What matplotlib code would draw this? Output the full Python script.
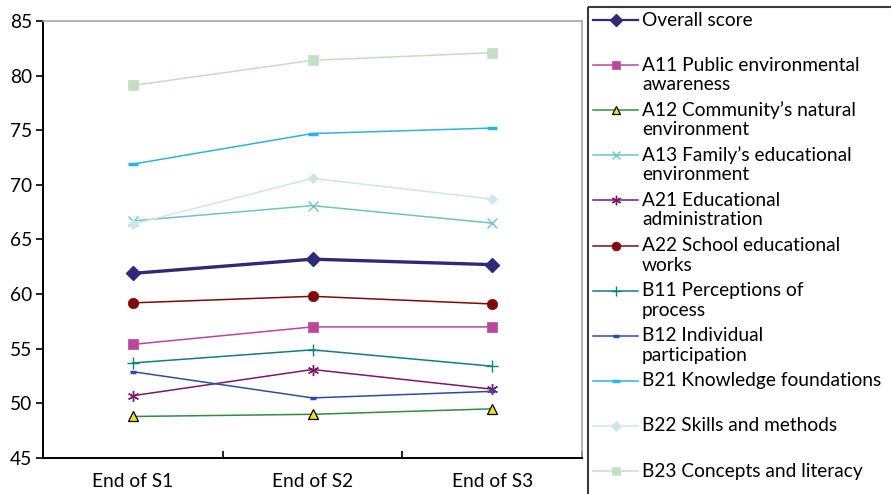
import matplotlib
matplotlib.use("Agg")
import matplotlib.pyplot as plt
from matplotlib.patches import Rectangle

plt.rcParams['font.family'] = ['Lato', 'DejaVu Sans']

# Data
periods = ["End of S1", "End of S2", "End of S3"]
labels = [
    "Overall score",
    "A11 Public environmental\nawareness",
    "A12 Community\u2019s natural\nenvironment",
    "A13 Family\u2019s educational\nenvironment",
    "A21 Educational\nadministration",
    "A22 School educational\nworks",
    "B11 Perceptions of\nprocess",
    "B12 Individual\nparticipation",
    "B21 Knowledge foundations",
    "B22 Skills and methods",
    "B23 Concepts and literacy",
]
overall = [61.9, 63.2, 62.7]
a11 = [55.4, 57.0, 57.0]
a12 = [48.8, 49.0, 49.5]
a13 = [66.7, 68.1, 66.5]
a21 = [50.7, 53.1, 51.3]
a22 = [59.2, 59.8, 59.1]
b11 = [53.7, 54.9, 53.4]
b12 = [52.9, 50.5, 51.1]
b21 = [71.9, 74.7, 75.2]
b22 = [66.4, 70.6, 68.7]
b23 = [79.1, 81.4, 82.1]
series = [overall, a11, a12, a13, a21, a22, b11, b12, b21, b22, b23]
yticks = [45, 50, 55, 60, 65, 70, 75, 80, 85]

# Styles: color, linewidth, marker, markersize, face, edge, edge width
styles = [
    dict(color="#2E2A78", lw=2.4, marker="D", ms=7.5, mfc="#2E2A78", mec="#2E2A78", mew=1.0),
    dict(color="#BA479B", lw=1.1, marker="s", ms=7.5, mfc="#BA479B", mec="#BA479B", mew=0.5),
    dict(color="#2F8F3F", lw=1.1, marker="^", ms=7.5, mfc="#F2E21B", mec="#000000", mew=0.9),
    dict(color="#6EC4C4", lw=1.1, marker="x", ms=7.0, mfc="#6EC4C4", mec="#6EC4C4", mew=1.0),
    dict(color="#7F1767", lw=1.1, marker=(6, 2, 0), ms=8.0, mfc="#7F1767", mec="#7F1767", mew=1.0),
    dict(color="#7F0A0A", lw=1.1, marker="o", ms=7.5, mfc="#7F0A0A", mec="#7F0A0A", mew=0.5),
    dict(color="#0F8080", lw=1.1, marker="+", ms=8.0, mfc="#0F8080", mec="#0F8080", mew=1.0),
    dict(color="#2F4AA8", lw=1.1, marker="_", ms=5.0, mfc="#2F4AA8", mec="#2F4AA8", mew=2.5),
    dict(color="#2BB3E8", lw=1.1, marker="_", ms=7.5, mfc="#2BB3E8", mec="#2BB3E8", mew=2.5),
    dict(color="#CDE7E6", lw=1.1, marker="D", ms=5.5, mfc="#CDE7E6", mec="#CDE7E6", mew=0.5),
    dict(color="#C3DFC3", lw=1.1, marker="s", ms=7.5, mfc="#C3DFC3", mec="#C3DFC3", mew=0.5),
]

FS = 13.8
W, H = 891, 494
fig = plt.figure(figsize=(W / 100, H / 100), dpi=100)
ax = fig.add_axes([43 / W, 1 - 458 / H, (582 - 43) / W, (458 - 21) / H])

x = list(range(len(periods)))
order = list(range(1, len(series))) + [0]
for i in order:
    st = styles[i]
    ax.plot(x, series[i], color=st["color"], lw=st["lw"], marker=st["marker"],
            ms=st["ms"], mfc=st["mfc"], mec=st["mec"], mew=st["mew"],
            zorder=3 if i else 4, clip_on=False)

ax.set_xlim(-0.5, len(periods) - 0.5)
ax.set_ylim(45, 85)
ax.set_yticks(yticks)
ax.set_yticklabels([str(v) for v in yticks], fontsize=FS)
ax.set_xticks(x)
ax.set_xticklabels(periods, fontsize=FS)
ax.set_xticks([-0.5, 0.5, 1.5, 2.5], minor=True)
ax.tick_params(axis="x", which="major", length=0, pad=11)
ax.tick_params(axis="x", which="minor", direction="in", length=5, width=1.2)
ax.tick_params(axis="y", direction="out", length=5, width=1.2, pad=3)
for side in ("left", "bottom"):
    ax.spines[side].set_color("#000000")
    ax.spines[side].set_linewidth(1.4)
for side in ("top", "right"):
    ax.spines[side].set_color("#A6A6A6")
    ax.spines[side].set_linewidth(1.2)

# Legend panel drawn in pixel coordinates
lax = fig.add_axes([0, 0, 1, 1], zorder=5)
lax.set_xlim(0, W)
lax.set_ylim(H, 0)
lax.axis("off")
lax.patch.set_alpha(0)
lax.add_patch(Rectangle((588, 7), 320, 500, fill=False, ec="#3A3A3A", lw=1.5,
                        clip_on=False))
y0, step, line_h = 20, 45.1, 19.5
for i, (lab, st) in enumerate(zip(labels, styles)):
    yy = y0 + step * i
    lax.plot([593, 638], [yy, yy], color=st["color"], lw=min(st["lw"], 1.6))
    lax.plot([615.5], [yy], marker=st["marker"], ms=st["ms"] * 0.85,
             mfc=st["mfc"], mec=st["mec"], mew=st["mew"], ls="none")
    for k, part in enumerate(lab.split("\n")):
        lax.text(642, yy + k * line_h, part, fontsize=FS, va="center",
                 ha="left", color="#000000")

fig.savefig("out.png", dpi=100)
